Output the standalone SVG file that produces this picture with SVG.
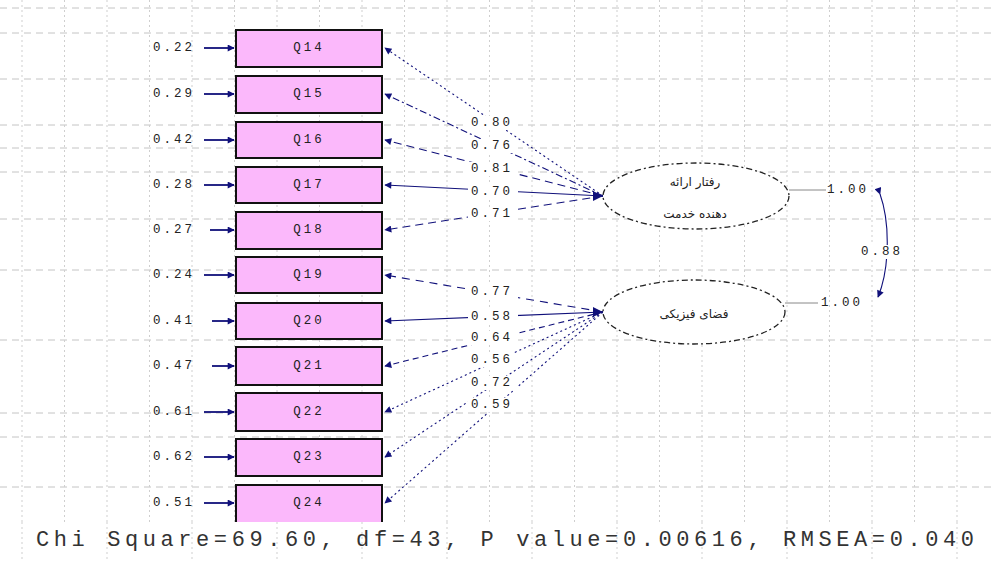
<svg xmlns="http://www.w3.org/2000/svg" width="993" height="561" viewBox="0 0 993 561">
<defs>
<marker id="ah" viewBox="0 0 10 10" refX="9" refY="5" markerWidth="10" markerHeight="7" markerUnits="userSpaceOnUse" orient="auto">
<path d="M0,0 L10,5 L0,10 z" fill="#10107a"/>
</marker>
</defs>
<style>
.gv{stroke:#cfcfcf;stroke-width:1;stroke-dasharray:2,3}
.gh{stroke:#c4c4c4;stroke-width:1;stroke-dasharray:7,5}
.box{fill:#fbb8fb;stroke:#111;stroke-width:2}
.t{font-family:"Liberation Mono",monospace;font-size:12.5px;fill:#222;letter-spacing:3px;text-anchor:middle;dominant-baseline:central}
.q{font-family:"Liberation Mono",monospace;font-size:12.5px;fill:#222;letter-spacing:3px;text-anchor:middle;dominant-baseline:central}
.err{stroke:#10107a;stroke-width:1.8;fill:none}
.ld{stroke:#10107a;stroke-width:1.1;fill:none}
.bg{fill:#fff}
.ell{fill:#fff;stroke:#222;stroke-width:1.3;stroke-dasharray:6,3,2,3}
.fa{font-family:"DejaVu Sans",sans-serif;font-size:12px;fill:#222;text-anchor:middle;dominant-baseline:central}
</style>
<rect width="993" height="561" fill="#fff"/>
<g id="grid">
<line class="gh" x1="0" y1="8" x2="993" y2="8"/>
<line class="gh" x1="0" y1="33" x2="993" y2="33"/>
<line class="gh" x1="0" y1="79" x2="993" y2="79"/>
<line class="gh" x1="0" y1="125" x2="993" y2="125"/>
<line class="gh" x1="0" y1="148" x2="993" y2="148"/>
<line class="gh" x1="0" y1="172" x2="993" y2="172"/>
<line class="gh" x1="0" y1="219" x2="993" y2="219"/>
<line class="gh" x1="0" y1="270" x2="993" y2="270"/>
<line class="gh" x1="0" y1="340" x2="993" y2="340"/>
<line class="gh" x1="0" y1="413" x2="993" y2="413"/>
<line class="gh" x1="0" y1="437" x2="993" y2="437"/>
<line class="gh" x1="0" y1="487" x2="993" y2="487"/>
<line class="gv" x1="22" y1="0" x2="22" y2="561"/>
<line class="gv" x1="64.5" y1="0" x2="64.5" y2="561"/>
<line class="gv" x1="107" y1="0" x2="107" y2="561"/>
<line class="gv" x1="149.5" y1="0" x2="149.5" y2="561"/>
<line class="gv" x1="192" y1="0" x2="192" y2="561"/>
<line class="gv" x1="234.5" y1="0" x2="234.5" y2="561"/>
<line class="gv" x1="277" y1="0" x2="277" y2="561"/>
<line class="gv" x1="319.5" y1="0" x2="319.5" y2="561"/>
<line class="gv" x1="362" y1="0" x2="362" y2="561"/>
<line class="gv" x1="404.5" y1="0" x2="404.5" y2="561"/>
<line class="gv" x1="447" y1="0" x2="447" y2="561"/>
<line class="gv" x1="489.5" y1="0" x2="489.5" y2="561"/>
<line class="gv" x1="532" y1="0" x2="532" y2="561"/>
<line class="gv" x1="574.5" y1="0" x2="574.5" y2="561"/>
<line class="gv" x1="617" y1="0" x2="617" y2="561"/>
<line class="gv" x1="659.5" y1="0" x2="659.5" y2="561"/>
<line class="gv" x1="702" y1="0" x2="702" y2="561"/>
<line class="gv" x1="744.5" y1="0" x2="744.5" y2="561"/>
<line class="gv" x1="787" y1="0" x2="787" y2="561"/>
<line class="gv" x1="829.5" y1="0" x2="829.5" y2="561"/>
<line class="gv" x1="872" y1="0" x2="872" y2="561"/>
<line class="gv" x1="914.5" y1="0" x2="914.5" y2="561"/>
<line class="gv" x1="957" y1="0" x2="957" y2="561"/>
</g>
<g id="connectors">
<line class="err" x1="204" y1="48" x2="234" y2="48" marker-end="url(#ah)"/>
<line class="err" x1="204" y1="94" x2="234" y2="94" marker-end="url(#ah)"/>
<line class="err" x1="204" y1="140" x2="234" y2="140" marker-end="url(#ah)"/>
<line class="err" x1="204" y1="185" x2="234" y2="185" marker-end="url(#ah)"/>
<line class="err" x1="210" y1="230" x2="234" y2="230" marker-end="url(#ah)"/>
<line class="err" x1="204" y1="275" x2="234" y2="275" marker-end="url(#ah)"/>
<line class="err" x1="212" y1="321" x2="234" y2="321" marker-end="url(#ah)"/>
<line class="err" x1="212" y1="366" x2="234" y2="366" marker-end="url(#ah)"/>
<line class="err" x1="204" y1="412" x2="234" y2="412" marker-end="url(#ah)"/>
<line class="err" x1="204" y1="457" x2="234" y2="457" marker-end="url(#ah)"/>
<line class="err" x1="204" y1="503" x2="234" y2="503" marker-end="url(#ah)"/>
<line class="ld" x1="603" y1="196" x2="385" y2="48" stroke-dasharray="2,3" marker-end="url(#ah)"/>
<line class="ld" x1="603" y1="196" x2="385" y2="94" stroke-dasharray="7,3,2,3" marker-end="url(#ah)"/>
<line class="ld" x1="603" y1="196" x2="385" y2="140" stroke-dasharray="8,5" marker-end="url(#ah)"/>
<line class="ld" x1="603" y1="196" x2="385" y2="185" marker-end="url(#ah)"/>
<line class="ld" x1="603" y1="196" x2="385" y2="230" stroke-dasharray="8,5" marker-end="url(#ah)"/>
<line class="ld" x1="603" y1="312" x2="385" y2="275" stroke-dasharray="8,6" marker-end="url(#ah)"/>
<line class="ld" x1="603" y1="312" x2="385" y2="321" marker-end="url(#ah)"/>
<line class="ld" x1="603" y1="312" x2="385" y2="366" stroke-dasharray="6,4" marker-end="url(#ah)"/>
<line class="ld" x1="603" y1="312" x2="385" y2="412" stroke-dasharray="2,3" marker-end="url(#ah)"/>
<line class="ld" x1="603" y1="312" x2="385" y2="457" stroke-dasharray="2,3" marker-end="url(#ah)"/>
<line class="ld" x1="603" y1="312" x2="385" y2="503" stroke-dasharray="2,3" marker-end="url(#ah)"/>
<path d="M603,196 l-10,-5 l0,10 z M603,312 l-10,-5 l0,10 z" fill="#10107a"/>
<rect class="bg" x="468" y="116" width="50" height="14"/>
<rect class="bg" x="468" y="139" width="50" height="14"/>
<rect class="bg" x="468" y="162" width="50" height="14"/>
<rect class="bg" x="468" y="185" width="50" height="14"/>
<rect class="bg" x="468" y="207" width="50" height="14"/>
<rect class="bg" x="468" y="285" width="50" height="14"/>
<rect class="bg" x="468" y="310" width="50" height="14"/>
<rect class="bg" x="468" y="331" width="50" height="14"/>
<rect class="bg" x="468" y="353" width="50" height="14"/>
<rect class="bg" x="468" y="376" width="50" height="14"/>
<rect class="bg" x="468" y="398" width="50" height="14"/>
<text class="t" x="492" y="123">0.80</text>
<text class="t" x="492" y="146">0.76</text>
<text class="t" x="492" y="169">0.81</text>
<text class="t" x="492" y="192">0.70</text>
<text class="t" x="492" y="214">0.71</text>
<text class="t" x="492" y="292">0.77</text>
<text class="t" x="492" y="317">0.58</text>
<text class="t" x="492" y="338">0.64</text>
<text class="t" x="492" y="360">0.56</text>
<text class="t" x="492" y="383">0.72</text>
<text class="t" x="492" y="405">0.59</text>
<line x1="789" y1="190" x2="826" y2="190" stroke="#888" stroke-width="1"/>
<line x1="785" y1="303" x2="818" y2="303" stroke="#888" stroke-width="1"/>
<text class="t" x="848" y="190">1.00</text>
<text class="t" x="842" y="303">1.00</text>
<path class="ld" d="M880,194 C890,222 890,268 878,297" stroke-width="1.8" marker-start="url(#ah)" marker-end="url(#ah)"/>
<rect class="bg" x="858" y="245" width="48" height="14"/>
<text class="t" x="882" y="252">0.88</text>
</g>
<g id="errors">
<text class="t" x="174" y="48">0.22</text>
<text class="t" x="174" y="94">0.29</text>
<text class="t" x="174" y="140">0.42</text>
<text class="t" x="174" y="185">0.28</text>
<text class="t" x="174" y="230">0.27</text>
<text class="t" x="174" y="275">0.24</text>
<text class="t" x="174" y="321">0.41</text>
<text class="t" x="174" y="366">0.47</text>
<text class="t" x="174" y="412">0.61</text>
<text class="t" x="174" y="457">0.62</text>
<text class="t" x="174" y="503">0.51</text>
</g>
<g id="Q14"><rect class="box" x="236" y="30" width="146" height="37"/><text class="q" x="309" y="48">Q14</text></g>
<g id="Q15"><rect class="box" x="236" y="76" width="146" height="37"/><text class="q" x="309" y="94">Q15</text></g>
<g id="Q16"><rect class="box" x="236" y="122" width="146" height="36"/><text class="q" x="309" y="140">Q16</text></g>
<g id="Q17"><rect class="box" x="236" y="167" width="146" height="36"/><text class="q" x="309" y="185">Q17</text></g>
<g id="Q18"><rect class="box" x="236" y="212" width="146" height="37"/><text class="q" x="309" y="230">Q18</text></g>
<g id="Q19"><rect class="box" x="236" y="257" width="146" height="36"/><text class="q" x="309" y="275">Q19</text></g>
<g id="Q20"><rect class="box" x="236" y="303" width="146" height="36"/><text class="q" x="309" y="321">Q20</text></g>
<g id="Q21"><rect class="box" x="236" y="347" width="146" height="38"/><text class="q" x="309" y="366">Q21</text></g>
<g id="Q22"><rect class="box" x="236" y="393" width="146" height="38"/><text class="q" x="309" y="412">Q22</text></g>
<g id="Q23"><rect class="box" x="236" y="439" width="146" height="37"/><text class="q" x="309" y="457">Q23</text></g>
<g id="Q24"><rect class="box" x="236" y="485" width="146" height="40"/><text class="q" x="309" y="503">Q24</text></g>
<g id="F1"><ellipse class="ell" cx="696" cy="196" rx="93" ry="33"/><text class="fa" x="695" y="182">رفتار ارائه</text><text class="fa" x="695" y="214">دهنده خدمت</text></g>
<g id="F2"><ellipse class="ell" cx="694" cy="312" rx="91" ry="32"/><text class="fa" x="694" y="314">فضای فیزیکی</text></g>
<rect x="0" y="522" width="993" height="39" fill="#fff"/>
<g id="stats">
<line class="gv" x1="22" y1="522" x2="22" y2="561"/>
<line class="gv" x1="107" y1="522" x2="107" y2="561"/>
<line class="gv" x1="192" y1="522" x2="192" y2="561"/>
<line class="gv" x1="277" y1="522" x2="277" y2="561"/>
<line class="gv" x1="362" y1="522" x2="362" y2="561"/>
<line class="gv" x1="447" y1="522" x2="447" y2="561"/>
<line class="gv" x1="532" y1="522" x2="532" y2="561"/>
<line class="gv" x1="617" y1="522" x2="617" y2="561"/>
<line class="gv" x1="702" y1="522" x2="702" y2="561"/>
<line class="gv" x1="787" y1="522" x2="787" y2="561"/>
<line class="gv" x1="872" y1="522" x2="872" y2="561"/>
<line class="gv" x1="957" y1="522" x2="957" y2="561"/>
<text x="36" y="546" font-family="Liberation Mono, monospace" font-size="22" fill="#333" textLength="938" lengthAdjust="spacing">Chi Square=69.60, df=43, P value=0.00616, RMSEA=0.040</text>
</g>
</svg>
